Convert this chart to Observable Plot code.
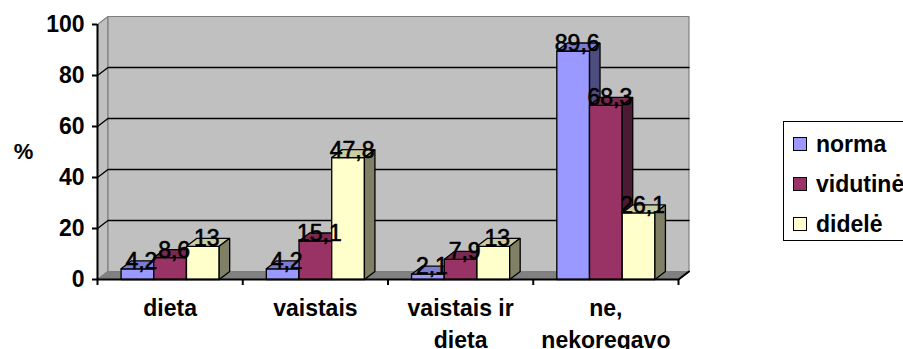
<!DOCTYPE html>
<html>
<head>
<meta charset="utf-8">
<script src="https://cdn.jsdelivr.net/npm/d3@7"></script>
<script src="https://cdn.jsdelivr.net/npm/@observablehq/plot@0.6"></script>
<style>
  html, body { margin: 0; padding: 0; background: #fff; overflow: hidden; }
  #wrap { position: relative; width: 903px; height: 349px; font-family: "Liberation Sans", Arial, sans-serif; }
  #legend { position: absolute; left: 783px; top: 121px; width: 130px; height: 118px; border: 1.5px solid #000; background: #fff; }
  .item { position: absolute; left: 9px; height: 24px; display: flex; align-items: center; font-weight: bold; font-size: 23px; color: #000; }
  .sw { width: 12px; height: 12px; border: 1.5px solid #000; margin-right: 9px; box-sizing: content-box; }
  svg text.val { letter-spacing: 0.6px; }
</style>
</head>
<body>
<div id="wrap"></div>
<script>
// Categories (x groups) and the three series, in percent
const categories = ["dieta", "vaistais", "vaistais ir\ndieta", "ne,\nnekoregavo"];
const seriesNames = ["norma", "vidutinė", "didelė"];
const norma = [4.2, 4.2, 2.1, 89.6];
const vidutine = [8.6, 15.1, 7.9, 68.3];
const didele = [13, 47.8, 13, 26.1];
const yTicks = [0, 20, 40, 60, 80, 100];

// Face colours per series: front, top, side
const seriesColors = [
  {front: "#9999ff", top: "#7b7bd0", side: "#4d4d80"},
  {front: "#993366", top: "#7a2952", side: "#4d1a33"},
  {front: "#ffffcc", top: "#cccca3", side: "#808066"}
];
const seriesValues = [norma, vidutine, didele];

// Layout
const W = 903, H = 349;
const mL = 97, mR = 225, mT = 24, mB = 70;
const pxX = (W - mL - mR) / categories.length;   // pixels per category unit
const pxY = (H - mT - mB) / 100;                 // pixels per percent
const DX = 10.5 / pxX, DY = 8 / pxY;             // 3-D depth offset in data units
const BW = 32.7 / pxX;                           // bar width in category units
const nCat = categories.length;

// Polygons are drawn as closed filled lines
const poly = (rows, id, pts, fill, stroke) => {
  for (const [x, y] of [...pts, pts[0]]) rows.push({id, x, y, fill, stroke});
};

// Walls and floor
const frameRows = [];
poly(frameRows, "leftwall", [[0, 0], [0, 100], [DX, 100 + DY], [DX, DY]], "#c0c0c0", "#808080");
poly(frameRows, "backwall", [[DX, DY], [DX, 100 + DY], [nCat + DX, 100 + DY], [nCat + DX, DY]], "#c0c0c0", "#808080");
poly(frameRows, "floor", [[0, 0], [nCat, 0], [nCat + DX, DY], [DX, DY]], "#808080", "#808080");

// Gridlines across the left and back walls
const gridRows = [];
for (const v of yTicks.filter(t => t > 0 && t < 100)) {
  for (const [x, y] of [[0, v], [DX, v + DY], [nCat + DX, v + DY]]) gridRows.push({id: v, x, y});
}

// Bars: front, top and side faces, painted left to right
const barRows = [];
const labelRows = [];
categories.forEach((c, i) => {
  const center = i + 0.5;
  seriesValues.forEach((vals, j) => {
    const v = vals[i];
    const x0 = center - 1.5 * BW + j * BW, x1 = x0 + BW;
    const col = seriesColors[j];
    const id = `${i}-${j}`;
    poly(barRows, id + "f", [[x0, 0], [x0, v], [x1, v], [x1, 0]], col.front);
    poly(barRows, id + "t", [[x0, v], [x1, v], [x1 + DX, v + DY], [x0 + DX, v + DY]], col.top);
    poly(barRows, id + "s", [[x1, 0], [x1, v], [x1 + DX, v + DY], [x1 + DX, DY]], col.side);
    labelRows.push({x: (x0 + x1) / 2, y: v, text: String(v).replace(".", ",")});
  });
});

const axisRows = [[0, 0], [nCat, 0], [nCat + DX, DY]].map(([x, y]) => ({x, y}));

const chart = Plot.plot({
  width: W,
  height: H,
  marginLeft: mL,
  marginRight: mR,
  marginTop: mT,
  marginBottom: mB,
  x: {type: "linear", domain: [0, nCat], axis: null},
  y: {domain: [0, 100], axis: null},
  color: {type: "identity"},
  style: {fontFamily: "'Liberation Sans', Arial, sans-serif", background: "transparent", overflow: "visible"},
  marks: [
    Plot.line(frameRows, {x: "x", y: "y", z: "id", fill: "fill", stroke: "stroke", strokeWidth: 1.2}),
    Plot.line(gridRows, {x: "x", y: "y", z: "id", stroke: "#000", strokeWidth: 1.4}),
    Plot.line(barRows, {x: "x", y: "y", z: "id", fill: "fill", stroke: "#000", strokeWidth: 1.3, strokeLinejoin: "miter"}),
    // axes
    Plot.line(axisRows, {x: "x", y: "y", stroke: "#000", strokeWidth: 2}),
    Plot.ruleX([0], {y1: 0, y2: 100, stroke: "#000", strokeWidth: 2}),
    Plot.ruleY(yTicks, {y: d => d, x1: -5 / pxX, x2: 0, stroke: "#000", strokeWidth: 2}),
    Plot.ruleX(d3.range(nCat + 1), {x: d => d, y1: 0, y2: -6 / pxY, stroke: "#000", strokeWidth: 2}),
    Plot.text(yTicks, {x: 0, y: d => d, text: d => String(d), textAnchor: "end", dx: -13, fontSize: 23, fontWeight: "bold", fill: "#000"}),
    Plot.text(categories, {x: (d, i) => i + 0.5, y: 0, text: d => d, lineAnchor: "top", dy: 14, lineHeight: 1.39, fontSize: 23, fontWeight: "bold", fill: "#000"}),
    Plot.text(["%"], {x: 0, y: 50, text: d => d, dx: -74, fontSize: 22, fontWeight: "bold", fill: "#000"}),
    // value labels
    Plot.text(labelRows, {x: "x", y: "y", text: "text", dx: 4, lineAnchor: "bottom", fontSize: 23, fill: "#000", stroke: "#000", strokeWidth: 0.6, className: "val"})
  ]
});

const wrap = document.getElementById("wrap");
wrap.appendChild(chart);

// Legend
const legend = document.createElement("div");
legend.id = "legend";
seriesNames.forEach((name, j) => {
  const item = document.createElement("div");
  item.className = "item";
  item.style.top = (10 + j * 40) + "px";
  const sw = document.createElement("span");
  sw.className = "sw";
  sw.style.background = seriesColors[j].front;
  item.appendChild(sw);
  item.appendChild(document.createTextNode(name));
  legend.appendChild(item);
});
wrap.appendChild(legend);
</script>
</body>
</html>
